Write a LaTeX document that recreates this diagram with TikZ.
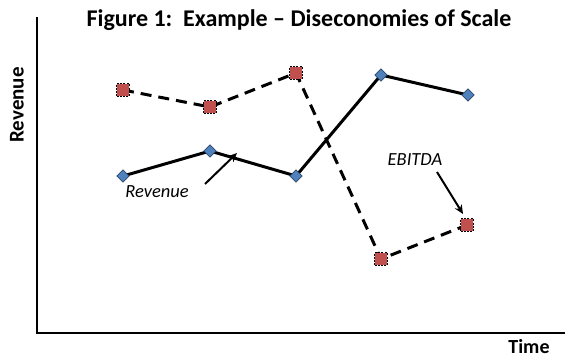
\documentclass[tikz,border=0pt]{standalone}
\usepackage{fontspec}
\setmainfont{Carlito}
\usetikzlibrary{arrows.meta,shapes.geometric,backgrounds}
\definecolor{revblue}{HTML}{4F81BD}
\definecolor{ebred}{HTML}{C0504D}
\begin{document}
\begin{tikzpicture}[x=1pt,y=-1pt,
  revpt/.style={diamond,fill=revblue,draw=revblue!55!black,line width=0.6pt,inner sep=0pt,minimum size=12.5pt},
  ebpt/.style={rectangle,fill=ebred,draw=black,dash pattern=on 2pt off 1.2pt,line width=0.8pt,inner sep=0pt,minimum size=12.5pt},
  revline/.style={line width=3pt,black},
  ebline/.style={line width=3pt,black,dash pattern=on 11pt off 7pt},
  axis/.style={line width=1.8pt,black},
  lbl/.style={font=\fontsize{18.5}{22}\selectfont\itshape,inner sep=0pt},
  ax/.style={font=\fontsize{21}{25}\selectfont\bfseries,inner sep=0pt},
  ptr/.style={-{Stealth[length=9pt,width=8pt]},line width=2pt}]
\useasboundingbox (0,0) rectangle (565,360);
% axes
\coordinate (o) at (37,333);
\coordinate (ytop) at (37,17);
\coordinate (xend) at (565,333);
\node[font=\fontsize{24}{28}\selectfont\bfseries,inner sep=0pt] (title) at (299,20) {Figure 1:\ \ Example -- Diseconomies of Scale};
\node[ax,rotate=90] (ylab) at (17,105) {Revenue};
\node[ax,font=\fontsize{20}{24}\selectfont\bfseries] (xlab) at (529,347) {Time};
% EBITDA series
\node[ebpt] (e1) at (123,90) {};
\node[ebpt] (e2) at (210,107) {};
\node[ebpt] (e3) at (296,73) {};
\node[ebpt] (e4) at (381,259) {};
\node[ebpt] (e5) at (467,225) {};
% Revenue series
\node[revpt] (r1) at (123,176) {};
\node[revpt] (r2) at (210,151) {};
\node[revpt] (r3) at (296,176) {};
\node[revpt] (r4) at (381,75) {};
\node[revpt] (r5) at (468,95) {};
\begin{scope}[on background layer]
\fill[white] (0,0) rectangle (565,360);
\draw[axis] (ytop) -- (o) -- (xend);
\draw[ebline] (e1.center) -- (e2.center) -- (e3.center) -- (e4.center) -- (e5.center);
\draw[revline] (r1.center) -- (r2.center) -- (r3.center) -- (r4.center) -- (r5.center);
\end{scope}
% labels
\node[lbl] (revlab) at (157,192) {Revenue};
\node[lbl] (eblab) at (415,160) {EBITDA};
\coordinate (ra) at (205,184);
\coordinate (rb) at (237,153);
\coordinate (ea) at (437,172);
\coordinate (eb) at (463,214);
\draw[ptr] (ra) -- (rb);
\draw[ptr] (ea) -- (eb);
\end{tikzpicture}
\end{document}
